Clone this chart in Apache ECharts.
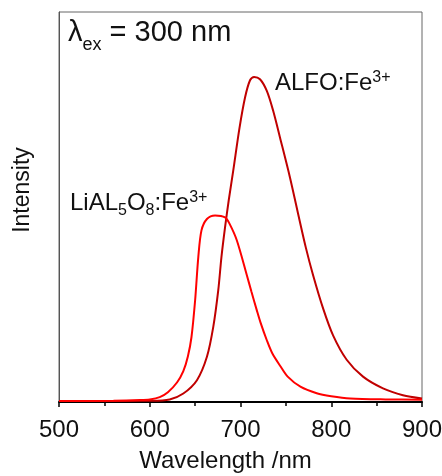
<!DOCTYPE html>
<html>
<head>
<meta charset="utf-8">
<script src="https://cdn.jsdelivr.net/npm/echarts@6/dist/echarts.min.js"></script>
<style>
  html, body { margin: 0; padding: 0; background: #fff; }
  #main { width: 442px; height: 476px; }
</style>
</head>
<body>
<div id="main"></div>
<script>
// intensity normalised to the ALFO peak
const alfoWavelength = [500, 600, 622, 637, 652, 663, 670, 675.5, 679, 683, 687, 692, 699, 705, 710.5, 715, 721.5, 729, 736, 743.5, 754.5, 765, 772, 780, 791, 802, 817, 835, 857, 879, 900];
const alfoIntensity = [0.003, 0.004, 0.008, 0.026, 0.067, 0.139, 0.231, 0.344, 0.446, 0.538, 0.62, 0.712, 0.845, 0.937, 0.99, 1.0, 0.993, 0.957, 0.896, 0.814, 0.691, 0.56, 0.475, 0.39, 0.288, 0.205, 0.13, 0.078, 0.042, 0.021, 0.011];

const liWavelength = [500, 560, 589, 600, 611, 620, 630, 637, 642, 646, 650, 653.5, 657, 663, 672, 683, 688, 696, 707, 712, 718, 722, 729, 735, 744, 752, 766, 784, 800, 821, 860, 900];
const liIntensity = [0.003, 0.004, 0.006, 0.008, 0.015, 0.03, 0.06, 0.095, 0.14, 0.2, 0.313, 0.446, 0.528, 0.563, 0.574, 0.568, 0.548, 0.497, 0.39, 0.34, 0.282, 0.245, 0.19, 0.15, 0.11, 0.078, 0.047, 0.027, 0.018, 0.011, 0.008, 0.007];

const xTicks = [500, 600, 700, 800, 900];

const font = 'Liberation Sans, Arial, sans-serif';

function pairs(xs, ys) {
    return xs.map((x, i) => [x, ys[i]]);
}

const myChart = echarts.init(document.getElementById('main'));

const option = {
    animation: false,
    backgroundColor: '#fff',
    grid: {
        left: 59, right: 20, top: 12, bottom: 74,
        outerBoundsMode: 'none',
        show: true,
        borderColor: '#666',
        borderWidth: 1
    },
    xAxis: {
        type: 'value',
        min: xTicks[0],
        max: xTicks[xTicks.length - 1],
        interval: 100,
        name: 'Wavelength /nm',
        nameLocation: 'middle',
        nameGap: 47,
        nameTextStyle: { fontFamily: font, fontSize: 24, color: '#111', padding: [0, 30, 0, 0] },
        axisLine: { lineStyle: { color: '#000', width: 2 } },
        axisTick: { length: 5, lineStyle: { color: '#000', width: 1.5 } },
        minorTick: { show: true, splitNumber: 2, length: 4, lineStyle: { color: '#000', width: 1.5 } },
        axisLabel: { fontFamily: font, fontSize: 24, color: '#111', margin: 16 },
        splitLine: { show: false }
    },
    yAxis: {
        type: 'value',
        min: 0,
        max: 1.2,
        name: 'Intensity',
        nameLocation: 'middle',
        nameGap: 25,
        nameTextStyle: { fontFamily: font, fontSize: 23, color: '#111', padding: [0, 0, 0, 34] },
        axisLine: { show: true, lineStyle: { color: '#555', width: 1 } },
        axisTick: { show: false },
        axisLabel: { show: false },
        splitLine: { show: false }
    },
    series: [
        {
            name: 'ALFO:Fe3+',
            type: 'line',
            data: pairs(alfoWavelength, alfoIntensity),
            showSymbol: false,
            smooth: 0.3,
            lineStyle: { color: '#c00000', width: 2 }
        },
        {
            name: 'LiAL5O8:Fe3+',
            type: 'line',
            data: pairs(liWavelength, liIntensity),
            showSymbol: false,
            smooth: 0.3,
            lineStyle: { color: '#ff0000', width: 2 }
        }
    ],
    graphic: [
        {
            type: 'text', left: 68, top: 12,
            style: {
                text: '{a|λ}{s|ex}{a| = 300 nm}',
                rich: {
                    a: { fontFamily: font, fontSize: 29, lineHeight: 36, fill: '#111' },
                    s: { fontFamily: font, fontSize: 18, lineHeight: 36, padding: [24, 0, 0, 0], fill: '#111' }
                }
            }
        },
        {
            type: 'text', left: 275, top: 70,
            style: {
                text: '{a|ALFO:Fe}{p|3+}',
                rich: {
                    a: { fontFamily: font, fontSize: 24, lineHeight: 30, fill: '#111' },
                    p: { fontFamily: font, fontSize: 16, lineHeight: 30, padding: [0, 0, 10, 0], fill: '#111' }
                }
            }
        },
        {
            type: 'text', left: 70, top: 187,
            style: {
                text: '{a|LiAL}{b|5}{a|O}{b|8}{a|:Fe}{p|3+}',
                rich: {
                    a: { fontFamily: font, fontSize: 24, lineHeight: 30, fill: '#111' },
                    b: { fontFamily: font, fontSize: 16, lineHeight: 30, padding: [16, 0, 0, 0], fill: '#111' },
                    p: { fontFamily: font, fontSize: 16, lineHeight: 30, padding: [0, 0, 10, 0], fill: '#111' }
                }
            }
        }
    ]
};
myChart.setOption(option);
</script>
</body>
</html>
